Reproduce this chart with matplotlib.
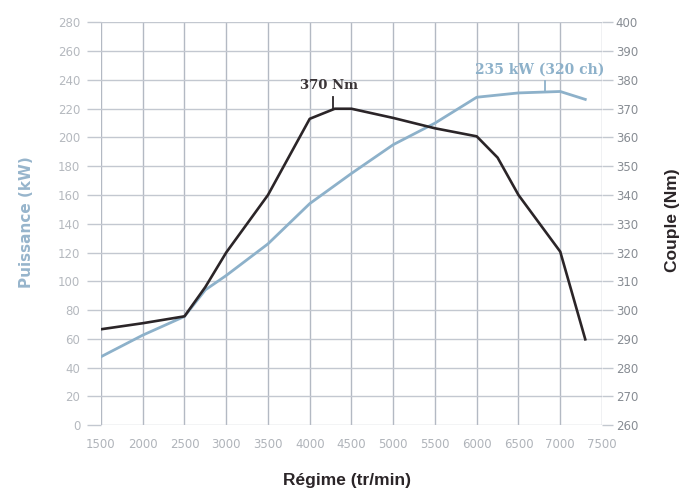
import matplotlib.pyplot as plt

# Courbes moteur : puissance (kW) et couple (Nm) en fonction du régime
regime_p = [1500, 2000, 2500, 2750, 3000, 3500, 4000, 4500, 5000, 5500, 6000, 6500, 7000, 7300]
puissance = [47.5, 62.5, 75.5, 94, 104, 126, 154, 175, 195, 210, 228, 231, 232, 226.5]

regime_c = [1500, 2000, 2500, 2750, 3000, 3500, 4000, 4300, 4500, 5000, 5500, 6000, 6250, 6500, 7000, 7300]
couple = [293.3, 295.4, 297.8, 308, 320, 340, 366.5, 370, 370, 366.8, 363.2, 360.4, 353, 340, 320.3, 289.8]

x_ticks = list(range(1500, 8000, 500))
p_ticks = list(range(0, 300, 20))
c_ticks = list(range(260, 410, 10))

BLEU = '#8db1ca'
NOIR = '#2b2528'
GRILLE = '#c3c8d0'
GRILLE_V = '#b3b9c3'
ETROITE = ['Liberation Sans', 'DejaVu Sans']

fig = plt.figure(figsize=(6.85, 4.91), dpi=100)
ax = fig.add_axes([0.1474, 0.1344, 0.7314, 0.8198])
ax2 = ax.twinx()

ax.set_xlim(1500, 7500)
ax.set_ylim(0, 280)
ax2.set_ylim(260, 400)

ax.set_xticks(x_ticks)
ax.set_yticks(p_ticks)
ax2.set_yticks(c_ticks)

for a in (ax, ax2):
    for s in a.spines.values():
        s.set_visible(False)

ax.grid(axis='x', color=GRILLE_V, linewidth=1.0)
ax.grid(axis='y', color=GRILLE, linewidth=1.0)
ax.set_axisbelow(True)

ax.tick_params(axis='x', length=0, pad=9, labelsize=8.5, labelcolor='#b0b4ba')
ax.tick_params(axis='y', direction='out', length=10, width=1.0, color=GRILLE,
               pad=5, labelsize=8.5, labelcolor='#b5b9bf')
ax2.tick_params(axis='y', direction='out', length=8, width=1.0, color=GRILLE,
                pad=2, labelsize=8.5, labelcolor='#878c93')

# courbes
ax.plot(regime_p, puissance, color=BLEU, linewidth=2.0, solid_joinstyle='round', zorder=3)
ax2.plot(regime_c, couple, color=NOIR, linewidth=1.9, solid_joinstyle='round', zorder=4)

# annotations des maxima
ax2.plot([4280, 4280], [370, 374], color=NOIR, linewidth=1.3)
ax2.text(4230, 378, '370 Nm', ha='center', va='center', fontsize=9.5,
         fontweight='bold', family='DejaVu Serif', color='#3a3437')
ax.plot([6820, 6820], [232, 239], color=BLEU, linewidth=1.3)
ax.text(6758, 247, '235 kW (320 ch)', ha='center', va='center', fontsize=10,
        fontweight='bold', family='DejaVu Serif', color=BLEU)

# titres des axes
fig.text(0.039, 0.548, 'Puissance (kW)', rotation=90, ha='center', va='center',
         fontsize=11, fontweight='bold', color='#97b5cc')
fig.text(0.982, 0.552, 'Couple (Nm)', rotation=90, ha='center', va='center',
         fontsize=12.5, fontweight='bold', color=NOIR, family=ETROITE)
fig.text(0.507, 0.022, 'Régime (tr/min)', ha='center', va='center',
         fontsize=12.5, fontweight='bold', color=NOIR, family=ETROITE)

fig.savefig('out.png', dpi=100)
